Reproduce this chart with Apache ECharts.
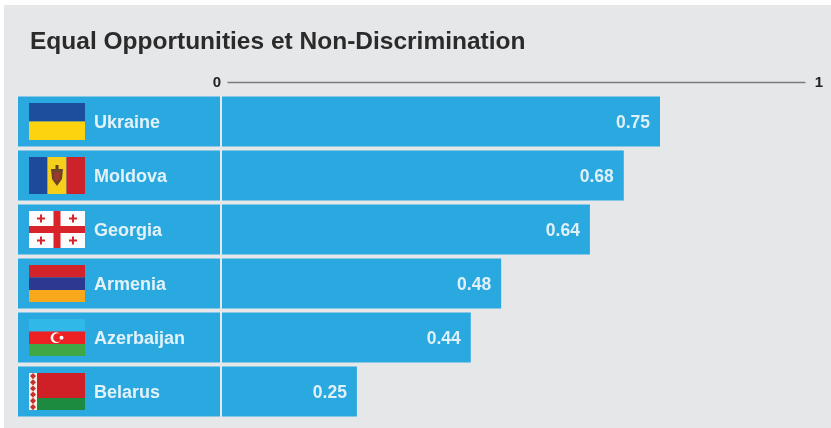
<!DOCTYPE html>
<html><head><meta charset="utf-8">
<style>html,body{margin:0;padding:0;background:#fff}#c{width:831px;height:428px;filter:blur(0.4px)}</style>
<script src="https://cdn.jsdelivr.net/npm/echarts@6/dist/echarts.min.js"></script>
</head><body><div id="c"></div>
<script>
const categories = ['Ukraine','Moldova','Georgia','Armenia','Azerbaijan','Belarus'];
const barLengths = [0.75,0.688,0.630,0.478,0.426,0.231];
const valueLabels = ['0.75','0.68','0.64','0.48','0.44','0.25'];
const axisTicks = [0,1];
const titleText = 'Equal Opportunities et Non-Discrimination';

function svg(body){
  return 'data:image/svg+xml;charset=utf-8,'+encodeURIComponent('<svg xmlns="http://www.w3.org/2000/svg" width="56" height="37" viewBox="0 0 56 37">'+body+'</svg>');
}
function r(x,y,w,h,f){return `<rect x="${x}" y="${y}" width="${w}" height="${h}" fill="${f}"/>`;}
function smallCross(cx,cy){return r(cx-4,cy-1,8,2,'#d8232a')+r(cx-1,cy-4,2,8,'#d8232a');}
let ornament='';
for(let i=0;i<6;i++){ornament+=`<path d="M4 ${i*6.2} L7 ${i*6.2+3} L4 ${i*6.2+6.2} L1 ${i*6.2+3} Z" fill="#c9302c"/>`;}
const flags = {
  Ukraine: svg(r(0,0,56,18.5,'#1b4f9e')+r(0,18.5,56,18.5,'#fdd20f')),
  Moldova: svg(r(0,0,18.5,37,'#1e4a9c')+r(18.5,0,19,37,'#f6cf1a')+r(37.5,0,18.5,37,'#cc2229')+
    '<path d="M22 12 L34 12 L33 22 L28 29 L23 22 Z" fill="#6e4426"/><path d="M25.5 15 L30.5 15 L30.5 22 L28 24.5 L25.5 22 Z" fill="#a3352f"/><rect x="26.5" y="8" width="3" height="4" fill="#5f3d22"/>'),
  Georgia: svg(r(0,0,56,37,'#fbfbfb')+r(24.5,0,7,37,'#d8232a')+r(0,15,56,7,'#d8232a')+smallCross(12,7.5)+smallCross(44,7.5)+smallCross(12,29.5)+smallCross(44,29.5)),
  Armenia: svg(r(0,0,56,12.5,'#d2232a')+r(0,12.5,56,12.5,'#2b3990')+r(0,25,56,12,'#f7a81b')),
  Azerbaijan: svg(r(0,0,56,12.5,'#2fb8e8')+r(0,12.5,56,12.5,'#ed2024')+r(0,25,56,12,'#3fa845')+
    '<circle cx="27" cy="18.7" r="5.4" fill="#fff"/><circle cx="28.6" cy="18.7" r="4.4" fill="#ed2024"/><circle cx="32.5" cy="18.7" r="2" fill="#fff"/>'),
  Belarus: svg(r(0,0,8,37,'#f4eee6')+ornament+r(8,0,48,25,'#cf2027')+r(8,25,48,12,'#1c8a3f'))
};

const flagRich = {};
categories.forEach(c=>{flagRich['f'+c]={width:56,height:37,backgroundColor:{image:flags[c]}};});
const labelRich = Object.assign({
  sp:{width:11,height:37},
  n:{color:'#e3f2f9',fontFamily:'Liberation Sans',fontWeight:'bold',fontSize:18,padding:[3,0,0,9]}
},flagRich);

const BLUE='#2aa9e0';
const chart = echarts.init(document.getElementById('c'),null,{renderer:'canvas'});
chart.setOption({
  animation:false,
  backgroundColor:'#fff',
  graphic:[{type:'rect',z:-10,silent:true,shape:{x:4,y:5,width:827,height:423},style:{fill:'#e6e7e9'}}],
  title:{text:titleText,left:30,top:30,padding:0,textStyle:{fontFamily:'Liberation Sans',fontWeight:'bold',fontSize:24.5,color:'#2b2b2b'}},
  grid:[
    {left:222,top:94.5,width:584,height:324},
    {left:228,top:82,width:577,height:0}
  ],
  xAxis:[
    {gridIndex:0,type:'value',position:'top',min:0,max:1,interval:1,offset:12.5,
     axisLine:{show:false},axisTick:{show:false},splitLine:{show:false},
     axisLabel:{show:true,margin:0,verticalAlign:'middle',
       formatter:v=>axisTicks.includes(v)?(v===0?'{a|0}':'{b|1}'):'',
       rich:{a:{color:'#222',fontFamily:'Liberation Sans',fontWeight:'bold',fontSize:15,padding:[2,10,0,0]},
             b:{color:'#222',fontFamily:'Liberation Sans',fontWeight:'bold',fontSize:15,padding:[2,0,0,26]}}}},
    {gridIndex:1,type:'value',position:'top',min:0,max:1,
     axisLine:{show:true,onZero:false,lineStyle:{color:'#7b7b7b',width:1.4}},
     axisTick:{show:false},axisLabel:{show:false},splitLine:{show:false}}
  ],
  yAxis:[
    {gridIndex:0,type:'category',inverse:true,data:categories,
     axisLine:{show:false},axisTick:{show:false},
     axisLabel:{align:'left',margin:204,width:202,height:37,overflow:'none',padding:[6.5,0,6.5,0],
       backgroundColor:BLUE,
       formatter:c=>`{sp|}{f${c}|}{n|${c}}`,
       rich:labelRich}},
    {gridIndex:1,type:'category',show:false,data:['']}
  ],
  series:[{
    type:'bar',xAxisIndex:0,yAxisIndex:0,data:barLengths,barWidth:50,
    itemStyle:{color:BLUE},
    label:{show:true,position:'insideRight',distance:10,offset:[0,1.5],formatter:p=>valueLabels[p.dataIndex],
      color:'#e0f0f8',fontFamily:'Liberation Sans',fontWeight:'bold',fontSize:17.5}
  }]
});
</script></body></html>
